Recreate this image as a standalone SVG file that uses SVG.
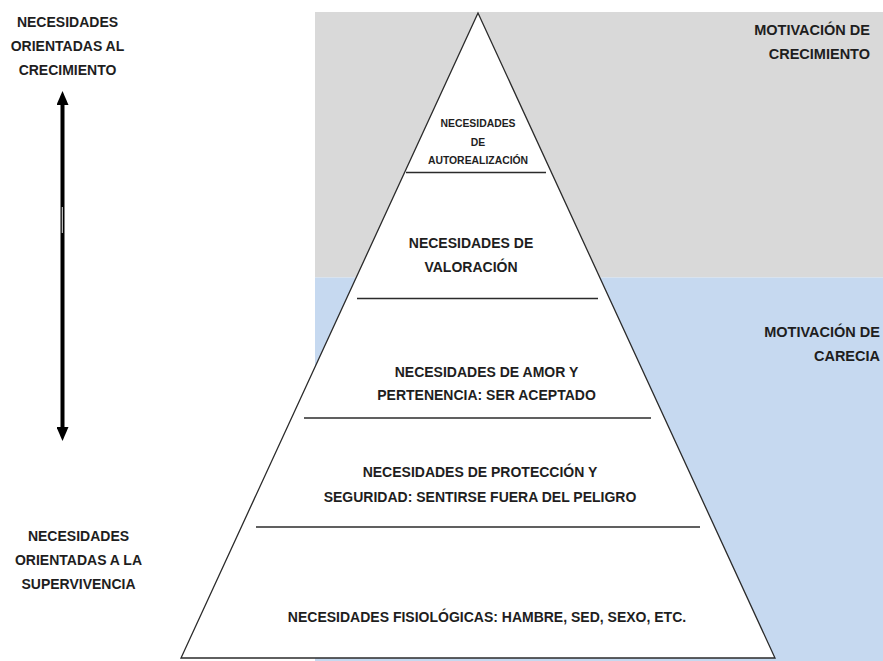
<svg xmlns="http://www.w3.org/2000/svg" width="883" height="661" viewBox="0 0 883 661">
<style>
  text { font-family: "Liberation Sans", Arial, sans-serif; font-weight: bold; fill: #1e1e1e; }
  .lbl { font-size: 14px; text-anchor: middle; }
  .small { font-size: 10.4px; text-anchor: middle; }
  .side { font-size: 14.5px; text-anchor: end; }
  .divider { stroke: #2b2b2b; stroke-width: 1.3; fill: none; }
  .pyr { fill: #ffffff; stroke: #2b2b2b; stroke-width: 1.3; stroke-linejoin: miter; }
</style>
<defs>
  <marker id="head" viewBox="0 0 14 12" refX="1" refY="6" markerWidth="14" markerHeight="12" markerUnits="userSpaceOnUse" orient="auto-start-reverse">
    <path d="M0,0 L14,6 L0,12 z" fill="#000000"/>
  </marker>
</defs>
<rect x="0" y="0" width="883" height="661" fill="#ffffff"/>

<g id="zones">
  <rect id="zone-growth" x="315" y="12" width="568" height="265.5" fill="#d9d9d9"/>
  <rect id="zone-deficit" x="315" y="277.5" width="568" height="383.5" fill="#c6d9f0"/>
</g>

<g id="pyramid">
  <polygon class="pyr" points="478,13 181,658 775,658"/>
</g>

<g id="level-autorealizacion">
  <text class="small" x="478" y="127">NECESIDADES</text>
  <text class="small" x="478" y="146">DE</text>
  <text class="small" x="478" y="164">AUTOREALIZACIÓN</text>
  <line class="divider" x1="406" y1="172.5" x2="546" y2="172.5"/>
</g>

<g id="level-valoracion">
  <text class="lbl" x="471" y="248">NECESIDADES DE</text>
  <text class="lbl" x="471" y="272">VALORACIÓN</text>
  <line class="divider" x1="357" y1="298.5" x2="598" y2="298.5"/>
</g>

<g id="level-amor">
  <text class="lbl" x="486.5" y="377">NECESIDADES DE AMOR Y</text>
  <text class="lbl" x="486.5" y="400">PERTENENCIA: SER ACEPTADO</text>
  <line class="divider" x1="304" y1="418" x2="651" y2="418"/>
</g>

<g id="level-proteccion">
  <text class="lbl" x="480" y="477">NECESIDADES DE PROTECCIÓN Y</text>
  <text class="lbl" x="480" y="502">SEGURIDAD: SENTIRSE FUERA DEL PELIGRO</text>
  <line class="divider" x1="256" y1="527" x2="700" y2="527"/>
</g>

<g id="level-fisiologicas">
  <text class="lbl" x="487" y="622">NECESIDADES FISIOLÓGICAS: HAMBRE, SED, SEXO, ETC.</text>
</g>

<g id="label-crecimiento">
  <text class="lbl" x="67.5" y="27">NECESIDADES</text>
  <text class="lbl" x="67.5" y="51">ORIENTADAS AL</text>
  <text class="lbl" x="67.5" y="75">CRECIMIENTO</text>
</g>

<g id="label-supervivencia">
  <text class="lbl" x="78.5" y="541">NECESIDADES</text>
  <text class="lbl" x="78.5" y="565">ORIENTADAS A LA</text>
  <text class="lbl" x="78.5" y="589">SUPERVIVENCIA</text>
</g>

<g id="label-motivacion-crecimiento">
  <text class="side" x="870" y="35">MOTIVACIÓN DE</text>
  <text class="side" x="870" y="59">CRECIMIENTO</text>
</g>

<g id="label-motivacion-carecia">
  <text class="side" x="880" y="337">MOTIVACIÓN DE</text>
  <text class="side" x="880" y="361">CARECIA</text>
</g>

<g id="connectors">
  <path id="arrow-growth-survival" d="M62.5,104 L62.5,428" stroke="#000000" stroke-width="4" fill="none" marker-start="url(#head)" marker-end="url(#head)"/>
  <line x1="62.3" y1="207" x2="62.3" y2="233" stroke="#e8e8e8" stroke-width="1"/>
</g>
</svg>
